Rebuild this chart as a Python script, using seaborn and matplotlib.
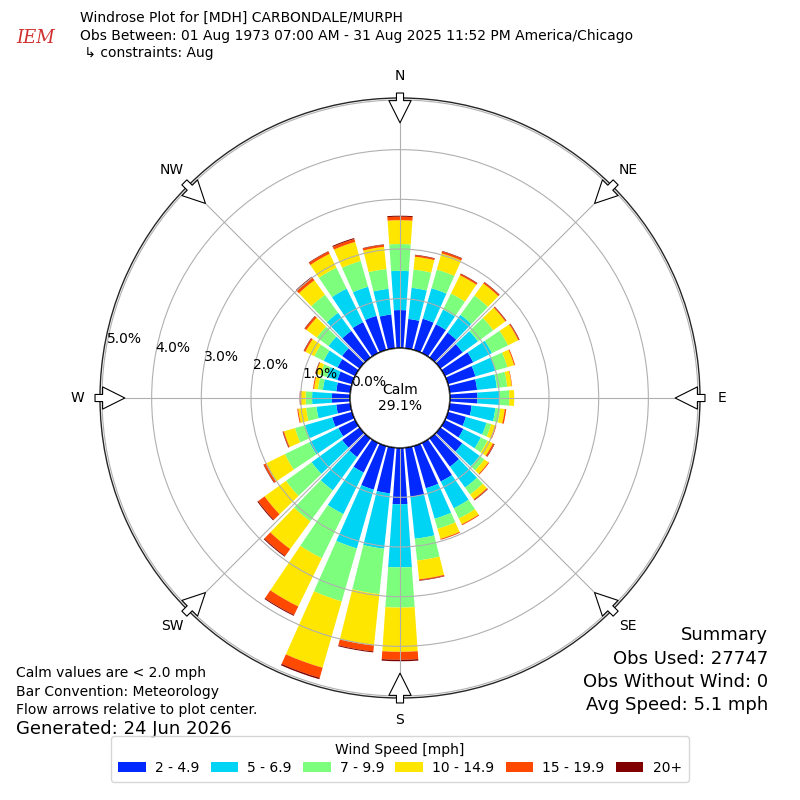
import matplotlib
matplotlib.use("Agg")
import matplotlib.pyplot as plt
from matplotlib.patches import Circle
import numpy as np
import seaborn as sns

# wind direction bins (deg, meteorological)
directions = [0, 10, 20, 30, 40, 50, 60, 70, 80, 90, 100, 110, 120, 130, 140, 150, 160, 170,
              180, 190, 200, 210, 220, 230, 240, 250, 260, 270, 280, 290, 300, 310, 320, 330, 340, 350]

# frequency (%) per speed bin, one value per direction
spd_2_5 = [0.77, 0.60, 0.66, 0.65, 0.63, 0.56, 0.64, 0.58, 0.56, 0.56, 0.45, 0.38, 0.42, 0.55, 0.71, 0.87, 0.89, 1.00,
           1.14, 0.93, 0.92, 0.67, 0.47, 0.44, 0.38, 0.42, 0.29, 0.37, 0.29, 0.31, 0.40, 0.44, 0.67, 0.70, 0.72, 0.69]
spd_5_7 = [0.79, 0.63, 0.64, 0.33, 0.44, 0.38, 0.42, 0.42, 0.40, 0.44, 0.48, 0.43, 0.39, 0.43, 0.52, 0.60, 0.64, 0.85,
           1.27, 1.12, 1.23, 0.93, 0.83, 0.76, 0.65, 0.57, 0.40, 0.40, 0.27, 0.22, 0.31, 0.34, 0.45, 0.75, 0.61, 0.52]
spd_7_10 = [0.54, 0.37, 0.39, 0.36, 0.48, 0.38, 0.36, 0.25, 0.21, 0.20, 0.10, 0.10, 0.15, 0.12, 0.17, 0.23, 0.21, 0.44,
            0.81, 0.92, 1.11, 0.99, 0.77, 0.64, 0.55, 0.21, 0.21, 0.13, 0.10, 0.14, 0.21, 0.29, 0.45, 0.47, 0.54, 0.40]
spd_10_15 = [0.48, 0.26, 0.34, 0.41, 0.30, 0.30, 0.23, 0.14, 0.09, 0.10, 0.09, 0.09, 0.12, 0.10, 0.12, 0.13, 0.21, 0.38,
             0.89, 1.04, 1.39, 1.08, 0.69, 0.53, 0.43, 0.23, 0.16, 0.09, 0.08, 0.09, 0.20, 0.26, 0.36, 0.31, 0.40, 0.45]
spd_15_20 = [0.07, 0.03, 0.04, 0.03, 0.03, 0.02, 0.02, 0.02, 0.01, 0.00, 0.03, 0.02, 0.03, 0.02, 0.02, 0.02, 0.02, 0.02,
             0.16, 0.12, 0.21, 0.19, 0.17, 0.16, 0.04, 0.02, 0.02, 0.02, 0.02, 0.01, 0.03, 0.04, 0.07, 0.05, 0.06, 0.04]
spd_20p = [0.02, 0.01, 0.01, 0.01, 0.01, 0.01, 0.01, 0.00, 0.00, 0.00, 0.00, 0.00, 0.01, 0.00, 0.01, 0.00, 0.00, 0.01,
           0.03, 0.02, 0.03, 0.02, 0.02, 0.02, 0.01, 0.01, 0.00, 0.01, 0.00, 0.01, 0.01, 0.01, 0.02, 0.01, 0.02, 0.01]

speed_labels = ["2 - 4.9", "5 - 6.9", "7 - 9.9", "10 - 14.9", "15 - 19.9", "20+"]
compass = ["N", "NE", "E", "SE", "S", "SW", "W", "NW"]
ring_vals = [0, 1, 2, 3, 4, 5]
calm_pct = 29.1

sns.set_style("white", {"axes.axisbelow": "line", "text.color": "black",
                        "xtick.color": "black", "ytick.color": "black"})
colors = sns.color_palette(["#0028ff", "#00d4f5", "#7dff7d", "#ffe600", "#ff4800", "#800000"])

fig = plt.figure(figsize=(8, 8), dpi=100)
ax = fig.add_axes([0.125, 0.1275, 0.75, 0.75], projection="polar")
ax.set_theta_zero_location("N")
ax.set_theta_direction(-1)
ax.set_rorigin(-1.0)
ax.set_ylim(0, 5.04)

theta = np.deg2rad(directions)
width = np.deg2rad(8)
bottom = np.zeros(len(directions))
handles = []
for vals, col, lab in zip([spd_2_5, spd_5_7, spd_7_10, spd_10_15, spd_15_20, spd_20p], colors, speed_labels):
    vals = np.array(vals)
    b = ax.bar(theta, vals, width=width, bottom=bottom, color=col, linewidth=0, label=lab, zorder=1)
    handles.append(b)
    bottom = bottom + vals

# grid
ax.set_xticks(np.deg2rad(np.arange(0, 360, 45)))
ax.set_xticklabels(compass, fontsize=10)
ax.tick_params(axis="x", pad=5.5)
ax.set_yticks(ring_vals)
ax.set_yticklabels([f"{v:.1f}%" for v in ring_vals], fontsize=10)
ax.set_rlabel_position(280)
ax.grid(True, color="#b0b0b0", linewidth=0.8)
ax.spines["polar"].set_linewidth(1.0)

# calm circle
ax.add_patch(Circle((0.5, 0.5), 50 / 600, transform=ax.transAxes, facecolor="white",
                    edgecolor="black", linewidth=1.0, zorder=3))
ax.text(0.5, 0.5, f"Calm\n{calm_pct:.1f}%", transform=ax.transAxes, ha="center", va="center",
        fontsize=10, zorder=4)

# flow arrows
for d in range(0, 360, 45):
    ax.annotate("", xy=(np.deg2rad(d), 4.54), xytext=(np.deg2rad(d), 5.14),
                arrowprops=dict(arrowstyle="simple,head_length=1.0,head_width=1.0,tail_width=0.32",
                                fc="white", ec="black", lw=0.8, mutation_scale=16,
                                shrinkA=0, shrinkB=0),
                annotation_clip=False, zorder=5)

# header
fig.text(0.1, 1 - 11 / 800, "Windrose Plot for [MDH] CARBONDALE/MURPH", fontsize=10, va="top")
fig.text(0.1, 1 - 29 / 800, "Obs Between: 01 Aug 1973 07:00 AM - 31 Aug 2025 11:52 PM America/Chicago",
         fontsize=10, va="top")
fig.text(0.1, 1 - 46 / 800, " \u21b3 constraints: Aug", fontsize=10, va="top")
fig.text(16 / 800, 1 - 38 / 800, "IEM", fontsize=13, color="#d03030", family="serif", style="italic",
         va="center")

# footer notes
fig.text(16 / 800, 1 - 673 / 800, "Calm values are < 2.0 mph", fontsize=10, va="center")
fig.text(16 / 800, 1 - 692 / 800, "Bar Convention: Meteorology", fontsize=10, va="center")
fig.text(16 / 800, 1 - 710 / 800, "Flow arrows relative to plot center.", fontsize=10, va="center")
fig.text(16 / 800, 1 - 729 / 800, "Generated: 24 Jun 2026", fontsize=13, va="center")

for i, line in enumerate(["Summary", "Obs Used: 27747", "Obs Without Wind: 0", "Avg Speed: 5.1 mph"]):
    fig.text(768 / 800, 1 - (635 + i * 23.5) / 800, line, fontsize=13, ha="right", va="center")

fig.legend(handles, speed_labels, loc="lower center", bbox_to_anchor=(0.5, 0.014), ncol=6,
           title="Wind Speed [mph]", fontsize=10, title_fontsize=10, frameon=True,
           columnspacing=0.8, handletextpad=0.65, borderpad=0.5, labelspacing=0.3)

fig.savefig("out.png", dpi=100)
